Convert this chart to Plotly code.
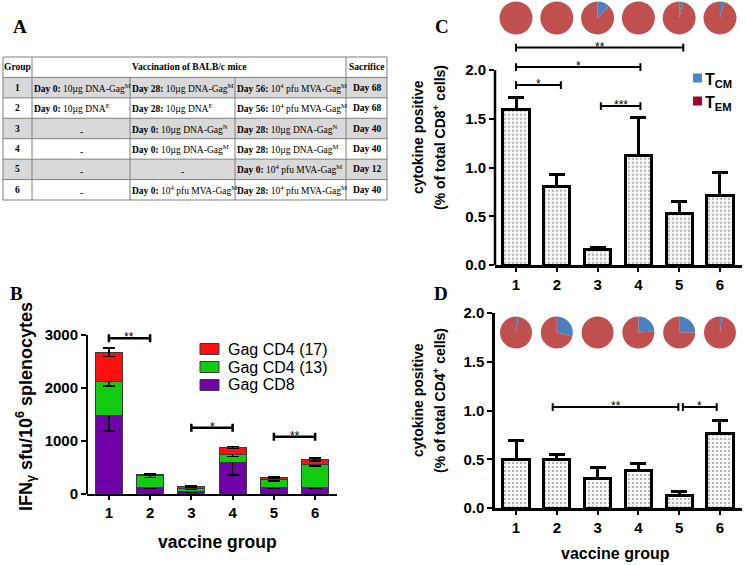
import plotly.graph_objects as go

W, H = 746, 565

# ── data ─────────────────────────────────────────────────────────────
GROUPS = [1, 2, 3, 4, 5, 6]

# panel A (vaccination schedule)
TABLE_HEADER = ["Group", "Vaccination of BALB/c mice", "Sacrifice"]
TABLE_ROWS = [
    ["1", "<b>Day 0:</b> 10µg DNA-Gag<sup>M</sup>", "<b>Day 28:</b> 10µg DNA-Gag<sup>M</sup>",
     "<b>Day 56:</b> 10<sup>4</sup> pfu MVA-Gag<sup>M</sup>", "Day 68"],
    ["2", "<b>Day 0:</b> 10µg DNA<sup>E</sup>", "<b>Day 28:</b> 10µg DNA<sup>E</sup>",
     "<b>Day 56:</b> 10<sup>4</sup> pfu MVA-Gag<sup>M</sup>", "Day 68"],
    ["3", "-", "<b>Day 0:</b> 10µg DNA-Gag<sup>N</sup>",
     "<b>Day 28:</b> 10µg DNA-Gag<sup>N</sup>", "Day 40"],
    ["4", "-", "<b>Day 0:</b> 10µg DNA-Gag<sup>M</sup>",
     "<b>Day 28:</b> 10µg DNA-Gag<sup>M</sup>", "Day 40"],
    ["5", "-", "-", "<b>Day 0:</b> 10<sup>4</sup> pfu MVA-Gag<sup>M</sup>", "Day 12"],
    ["6", "-", "<b>Day 0:</b> 10<sup>4</sup> pfu MVA-Gag<sup>M</sup>",
     "<b>Day 28:</b> 10<sup>4</sup> pfu MVA-Gag<sup>M</sup>", "Day 40"],
]

# panel B (IFNg ELISpot, stacked)
B_NAMES = ["Gag CD8", "Gag CD4 (13)", "Gag CD4 (17)"]
B_COLORS = ["#7000a8", "#12cc12", "#ff1010"]
B_CD8 = [1480, 130, 40, 600, 130, 120]
B_CD8_ERR = [295, 20, 10, 240, 20, 10]
B_CD4_13 = [650, 210, 70, 150, 150, 430]
B_CD4_13_ERR = [90, 30, 15, 40, 30, 20]
B_CD4_17 = [540, 30, 30, 130, 40, 100]
B_CD4_17_ERR = [80, 10, 8, 20, 15, 25]
B_SIG = [(1, 2, 2940, "**"), (3, 4, 1250, "*"), (5, 6, 1080, "**")]

# panel C (CD8)
C_MEAN = [1.59, 0.81, 0.16, 1.12, 0.53, 0.71]
C_SEM = [0.13, 0.12, 0.02, 0.39, 0.12, 0.24]
C_TCM = [0, 0, 12, 0, 4, 4]
C_TEM = [100, 100, 88, 100, 96, 96]
C_SIG = [(1.0, 5.1, 2.23, "**"), (1.0, 4.05, 2.03, "*"),
         (1.0, 2.1, 1.845, "*"), (3.08, 4.05, 1.63, "***")]

# panel D (CD4)
D_MEAN = [0.50, 0.50, 0.30, 0.38, 0.13, 0.76]
D_SEM = [0.19, 0.05, 0.12, 0.08, 0.04, 0.14]
D_TCM = [2, 29, 0, 24, 25, 2]
D_TEM = [98, 71, 100, 76, 75, 98]
D_SIG = [(1.9, 4.98, 1.035, "**"), (5.09, 5.92, 1.035, "*")]

MEM_NAMES = ["T<sub>CM</sub>", "T<sub>EM</sub>"]
PIE_COLORS = ["#4a7fc0", "#c0504d"]
MEM_LEGEND_COLORS = ["#4a86c8", "#a5002a"]

SANS = "Liberation Sans"
SERIF = "Liberation Serif"


def px(x):
    return x / W


def py(y):
    return 1 - y / H


def note(x, y, text, font, xanchor="center", yanchor="middle", **kw):
    # paper-anchored text, positions given in pixels from top-left
    fig.add_annotation(x=px(x), y=py(y), xref="paper", yref="paper", text=text,
                       showarrow=False, xanchor=xanchor, yanchor=yanchor,
                       borderpad=0, font=font, **kw)


# ── axes geometry (pixels) ───────────────────────────────────────────
B_XDOM = [px(87), px(337)]
B_YDOM = [py(494), py(324.4)]
B_XR, B_YR = [0.47, 6.53], [0, 3200]

CD_XDOM = [px(495), px(742)]
C_YDOM = [py(265), py(40.75)]
D_YDOM = [py(508), py(313)]
CD_XR = [0.485, 6.54]
C_YR, D_YR = [0, 2.3], [0, 2.0]

fig = go.Figure()

# ── B: stacked bars ──────────────────────────────────────────────────
for name, vals, errs, color in zip(
        B_NAMES, [B_CD8, B_CD4_13, B_CD4_17],
        [B_CD8_ERR, B_CD4_13_ERR, B_CD4_17_ERR], B_COLORS):
    fig.add_trace(go.Bar(
        x=GROUPS, y=vals, name=name, width=0.66,
        marker=dict(color=color, line=dict(color="#3a3a3a", width=1)),
        error_y=dict(type="data", array=errs, color="black", thickness=1.5, width=6),
        xaxis="x", yaxis="y", showlegend=False,
    ))

# ── C / D: dotted bars ───────────────────────────────────────────────
for mean, sem, xa, ya in [(C_MEAN, C_SEM, "x2", "y2"), (D_MEAN, D_SEM, "x3", "y3")]:
    fig.add_trace(go.Bar(
        x=GROUPS, y=mean, width=0.64,
        marker=dict(color="#f5f5f5", line=dict(color="black", width=3),
                    pattern=dict(shape=".", fgcolor="#9a9a9a", bgcolor="#f5f5f5",
                                 size=4, solidity=0.18)),
        error_y=dict(type="data", array=sem, arrayminus=[0] * len(sem), symmetric=False,
                     color="black", thickness=3, width=8),
        xaxis=xa, yaxis=ya, showlegend=False,
    ))


# pies placed over the group positions
def xpos(cat):
    return CD_XDOM[0] + (cat - CD_XR[0]) / (CD_XR[1] - CD_XR[0]) * (CD_XDOM[1] - CD_XDOM[0])


def add_pies(tcm, tem, yc_px, d_px):
    for g, a, b in zip(GROUPS, tcm, tem):
        xc = xpos(g)
        fig.add_trace(go.Pie(
            values=[a, b], labels=MEM_NAMES, sort=False, direction="clockwise",
            rotation=0, textinfo="none", marker=dict(colors=PIE_COLORS, line=dict(width=0)),
            domain=dict(x=[xc - d_px / 2 / W, xc + d_px / 2 / W],
                        y=[py(yc_px + d_px / 2), py(yc_px - d_px / 2)]),
            showlegend=False,
        ))


add_pies(C_TCM, C_TEM, 18, 33)
# D pies sit at y = 1.8 on the D axis
d_pie_y = 508 - 1.8 / D_YR[1] * (508 - 313)
add_pies(D_TCM, D_TEM, d_pie_y, 32)

# ── axes ─────────────────────────────────────────────────────────────
tickfont = dict(family=SANS, size=15, color="black", weight="bold")
common_x = dict(tickvals=GROUPS, ticks="outside", ticklen=4, tickwidth=2, tickcolor="black",
                showline=True, linecolor="black", showgrid=False, zeroline=False,
                tickfont=tickfont, fixedrange=True, automargin=False)
common_y = dict(ticks="outside", ticklen=5, tickwidth=2, tickcolor="black",
                showgrid=False, zeroline=False, tickfont=tickfont, fixedrange=True,
                automargin=False)

fig.update_layout(
    template="none",
    xaxis=dict(domain=B_XDOM, range=B_XR, anchor="y", linewidth=2, **common_x),
    yaxis=dict(domain=B_YDOM, range=B_YR, anchor="x", tickvals=[0, 1000, 2000, 3000],
               showline=False, **common_y),
    xaxis2=dict(domain=CD_XDOM, range=CD_XR, anchor="y2", linewidth=2.5, **common_x),
    yaxis2=dict(domain=C_YDOM, range=C_YR, anchor="x2", tickvals=[0, 0.5, 1, 1.5, 2],
                tickformat=".1f", showline=False, **common_y),
    xaxis3=dict(domain=CD_XDOM, range=CD_XR, anchor="y3", linewidth=2.5, **common_x),
    yaxis3=dict(domain=D_YDOM, range=D_YR, anchor="x3", tickvals=[0, 0.5, 1, 1.5, 2],
                tickformat=".1f", showline=True, linecolor="black", linewidth=2.5, **common_y),
)

# y axis lines that stop at the top tick
fig.add_shape(type="line", xref="paper", yref="y", x0=B_XDOM[0], x1=B_XDOM[0], y0=0, y1=3000,
              line=dict(color="black", width=2))
fig.add_shape(type="line", xref="paper", yref="y2", x0=CD_XDOM[0], x1=CD_XDOM[0], y0=0, y1=2.0,
              line=dict(color="black", width=2.5))


# ── significance brackets ────────────────────────────────────────────
def add_brackets(sig, xa, ya, cap, lw):
    for x0, x1, y, star in sig:
        line = dict(color="black", width=lw)
        fig.add_shape(type="line", xref=xa, yref=ya, x0=x0, x1=x1, y0=y, y1=y, line=line)
        for xe in (x0, x1):
            fig.add_shape(type="line", xref=xa, yref=ya, x0=xe, x1=xe,
                          y0=y - cap, y1=y + cap, line=line)
        fig.add_annotation(x=(x0 + x1) / 2, y=y, xref=xa, yref=ya, text=star,
                           showarrow=False, xanchor="center", yanchor="bottom", yshift=-7,
                           borderpad=0, font=dict(family=SANS, size=12, color="black"))


add_brackets(B_SIG, "x", "y", 75, 2.5)
add_brackets(C_SIG, "x2", "y2", 0.04, 2)
add_brackets(D_SIG, "x3", "y3", 0.04, 2)

# ── manual legends ───────────────────────────────────────────────────
for i, (name, color) in enumerate(zip(B_NAMES[::-1], B_COLORS[::-1])):
    yc = 349 + i * 18
    fig.add_shape(type="rect", xref="paper", yref="paper",
                  x0=px(200), x1=px(219), y0=py(yc + 5.5), y1=py(yc - 5.5),
                  fillcolor=color, line=dict(color="#3a3a3a", width=1))
    note(227, yc, name, dict(family=SANS, size=16, color="black"), xanchor="left")

for i, (name, color) in enumerate(zip(MEM_NAMES, MEM_LEGEND_COLORS)):
    yc = 78 + i * 23
    fig.add_shape(type="rect", xref="paper", yref="paper",
                  x0=px(693), x1=px(702), y0=py(yc + 4.5), y1=py(yc - 4.5),
                  fillcolor=color, line=dict(width=0))
    note(704, yc + 2, f"<b>{name}</b>", dict(family=SANS, size=16, color="black"),
         xanchor="left")

# ── axis titles ──────────────────────────────────────────────────────
note(25, 407, "IFN<sub>γ</sub> sfu/10<sup>6</sup> splenocytes",
     dict(family=SANS, size=18, color="black", weight="bold"), textangle=-90)
note(217, 542, "vaccine group", dict(family=SANS, size=17.5, color="black", weight="bold"))
ytitle_font = dict(family=SANS, size=14, color="black", weight="bold")
for yc, cell in [(137, "CD8"), (400, "CD4")]:
    note(418, yc, "cytokine positive", ytitle_font, textangle=-90)
    note(439, yc, f"(% of total {cell}<sup>+</sup> cells)", ytitle_font, textangle=-90)
note(615, 553, "vaccine group", dict(family=SANS, size=16, color="black", weight="bold"))

# ── panel letters ────────────────────────────────────────────────────
for letter, (lx, ly) in zip("ABCD", [(20, 27), (16, 293), (442, 27), (441, 293)]):
    note(lx, ly, f"<b>{letter}</b>", dict(family=SERIF, size=19, color="black"))

# ── panel A table ────────────────────────────────────────────────────
COL_X = [3, 32, 130, 235, 346, 387]
ROW_Y = [57 + i * 20.43 for i in range(len(TABLE_ROWS) + 2)]
grid = dict(color="#7f7f7f", width=1)
tfont = dict(family=SERIF, size=9.5, color="black")

for r in range(len(TABLE_ROWS)):
    if r % 2 == 0:
        fig.add_shape(type="rect", xref="paper", yref="paper",
                      x0=px(COL_X[0]), x1=px(COL_X[-1]), y0=py(ROW_Y[r + 2]), y1=py(ROW_Y[r + 1]),
                      fillcolor="#d9d9d9", line=dict(width=0), layer="below")
for yb in ROW_Y:
    fig.add_shape(type="line", xref="paper", yref="paper", x0=px(COL_X[0]), x1=px(COL_X[-1]),
                  y0=py(yb), y1=py(yb), line=grid)
for j, xb in enumerate(COL_X):
    top = ROW_Y[0] if j in (0, 1, 4, 5) else ROW_Y[1]
    fig.add_shape(type="line", xref="paper", yref="paper", x0=px(xb), x1=px(xb),
                  y0=py(ROW_Y[-1]), y1=py(top), line=grid)

hy = (ROW_Y[0] + ROW_Y[1]) / 2
for text, (xa, xb) in zip(TABLE_HEADER, [(COL_X[0], COL_X[1]), (COL_X[1], COL_X[4]),
                                         (COL_X[4], COL_X[5])]):
    note((xa + xb) / 2, hy, f"<b>{text}</b>", tfont)

for r, row in enumerate(TABLE_ROWS):
    yc = (ROW_Y[r + 1] + ROW_Y[r + 2]) / 2
    for c, text in enumerate(row):
        xa, xb = COL_X[c], COL_X[c + 1]
        if c in (0, 4):
            note((xa + xb) / 2, yc, f"<b>{text}</b>", tfont)
        elif text == "-":
            note((xa + xb) / 2, yc + 3, text, tfont)
        else:
            note(xa + 1, yc, text, tfont, xanchor="left")

fig.update_layout(
    width=W, height=H,
    margin=dict(l=0, r=0, t=0, b=0, pad=0),
    paper_bgcolor="white", plot_bgcolor="white",
    barmode="stack", showlegend=False,
    font=dict(family=SANS, color="black"),
)

# the page's default 8px body margin would push the 746x565 figure off the window
fig.write_html("out.html", config={"displayModeBar": False},
               post_script="document.body.style.margin='0';")
